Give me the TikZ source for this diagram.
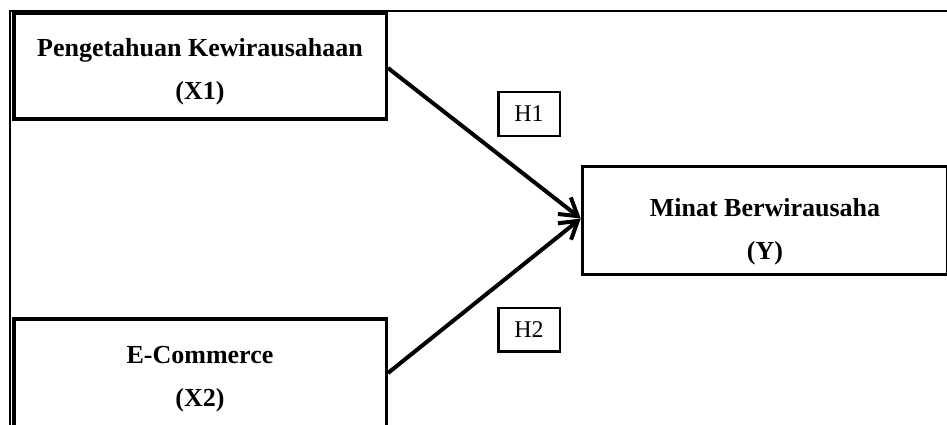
\documentclass[tikz,border=0pt]{standalone}
\usepackage{fontspec}
\setmainfont{Liberation Serif}
\usetikzlibrary{arrows.meta}
\begin{document}
\begin{tikzpicture}[x=1pt,y=-1pt,
    varbox/.style={draw,line width=3.5pt,inner sep=0pt},
    vartext/.style={font=\fontsize{26}{43}\selectfont\bfseries,align=center,inner sep=0pt},
    hypbox/.style={draw,line width=2.5pt,inner sep=0pt,minimum width=61.5pt,minimum height=43.5pt,font=\fontsize{24}{28}\selectfont},
    relarrow/.style={line width=4pt,-{Straight Barb[length=17pt,width=21pt,line width=4pt]}}]
  \clip (0,0) rectangle (947,425);
  % outer frame
  \draw[line width=2pt] (10,425) -- (10,11) -- (947,11);

  % variables
  \node[varbox,minimum width=372.5pt,minimum height=105.5pt] (x1) at (200,66.5) {};
  \node[vartext] (x1label) at (200,69) {\strut Pengetahuan Kewirausahaan\\(X1)\strut};
  \node[varbox,minimum width=372.5pt,minimum height=108pt] (x2) at (200,373) {};
  \node[vartext] (x2label) at (200,376) {\strut E-Commerce\\(X2)\strut};
  \node[varbox,minimum width=365.5pt,minimum height=108pt] (y) at (765.25,220.5) {};
  \node[vartext] (ylabel) at (765,229) {\strut Minat Berwirausaha\\(Y)\strut};

  % hypotheses
  \node[hypbox] (h1) at (529,114) {H1};
  \node[hypbox] (h2) at (529,329.5) {H2};

  \draw[relarrow] ([yshift=-1.5pt]x1.east) -- ([yshift=2pt]y.west);
  \draw[relarrow] (x2.east) -- ([yshift=2pt]y.west);
\end{tikzpicture}
\end{document}
